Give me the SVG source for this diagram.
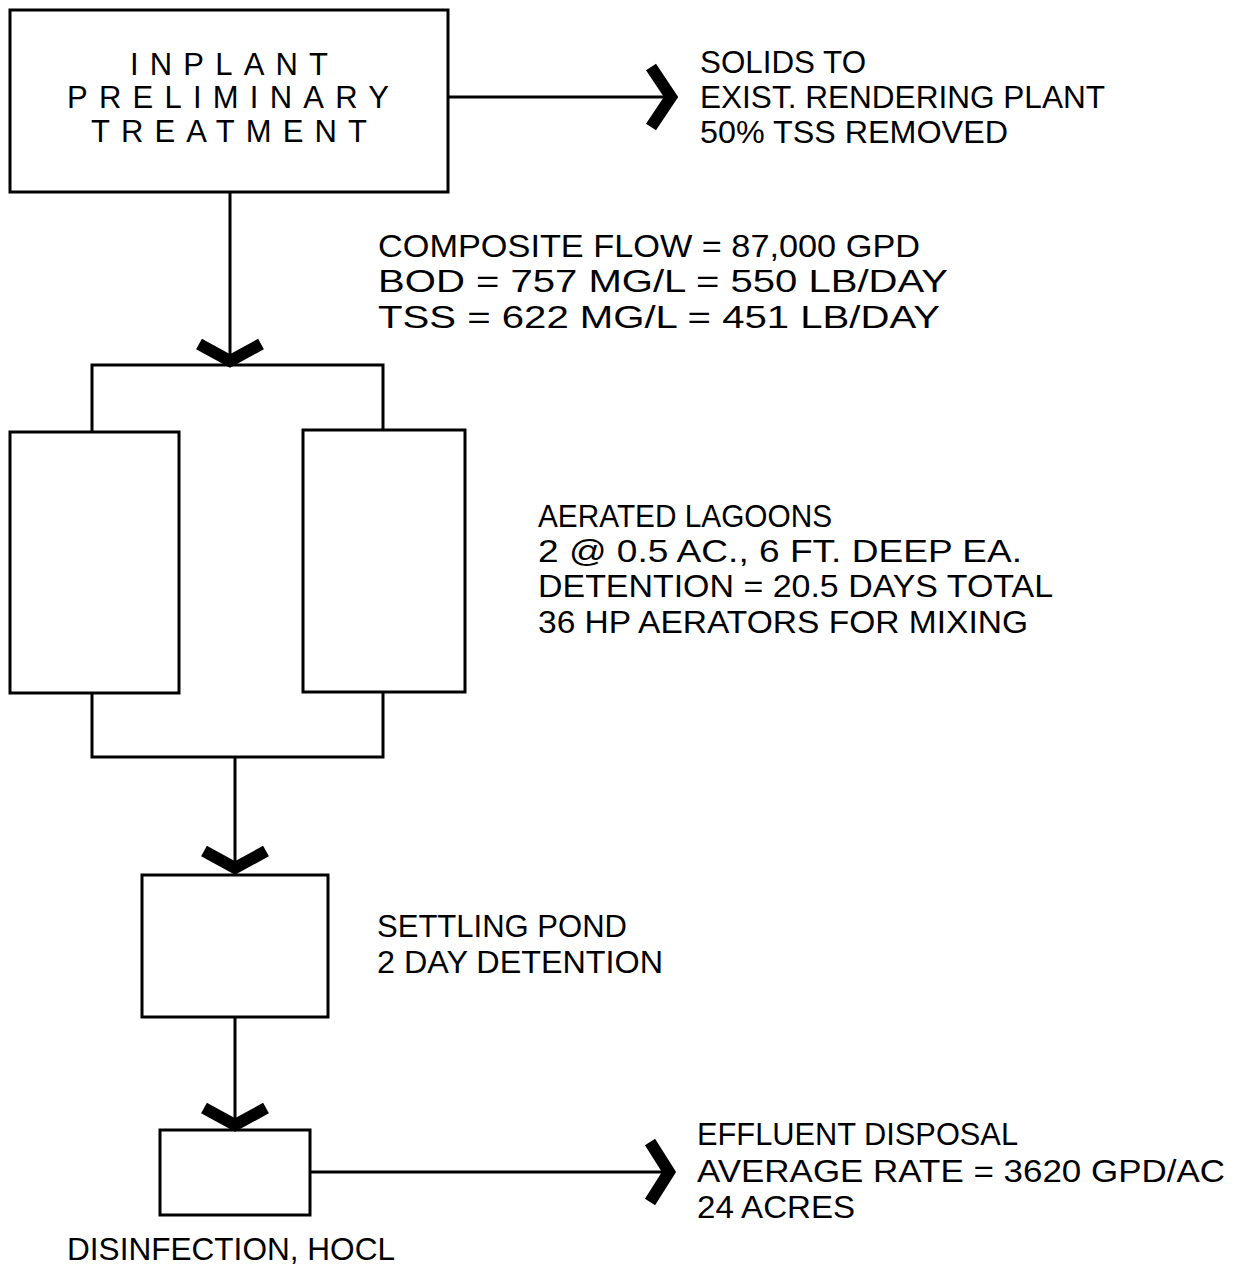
<svg xmlns="http://www.w3.org/2000/svg" width="1234" height="1271" viewBox="0 0 1234 1271">
<style>
.box{fill:none;stroke:#000;stroke-width:3}
.ln{fill:none;stroke:#000;stroke-width:3}
.chev{fill:none;stroke:#000;stroke-width:12;stroke-linejoin:miter;stroke-linecap:butt}
.t{font-family:"Liberation Sans",Arial,sans-serif;font-size:32px;fill:#000}
.tt{font-family:"Liberation Sans",Arial,sans-serif;font-size:31px;fill:#000}
</style>
<rect width="1234" height="1271" fill="#fff"/>
<g id="connectors">
  <line class="ln" x1="448" y1="97" x2="670" y2="97"/>
  <polyline class="chev" points="651,67 671,97 651,127"/>
  <line class="ln" x1="230" y1="192" x2="230" y2="362"/>
  <polyline class="chev" points="199,344 230,361 261,344"/>
  <polyline class="ln" points="92,432 92,365 383,365 383,430"/>
  <polyline class="ln" points="92,693 92,757 383,757 383,692"/>
  <line class="ln" x1="235" y1="757" x2="235" y2="870"/>
  <polyline class="chev" points="204,851 235,868 266,851"/>
  <line class="ln" x1="235" y1="1017" x2="235" y2="1125"/>
  <polyline class="chev" points="204,1108 235,1125 266,1108"/>
  <line class="ln" x1="310" y1="1172" x2="668" y2="1172"/>
  <polyline class="chev" points="650,1142 669,1172 650,1202"/>
</g>
<g id="preliminary">
  <rect class="box" x="10" y="10" width="438" height="182"/>
  <text class="tt" x="130" y="75" textLength="198" lengthAdjust="spacing">INPLANT</text>
  <text class="tt" x="67" y="108" textLength="322" lengthAdjust="spacing">PRELIMINARY</text>
  <text class="tt" x="91" y="142" textLength="276" lengthAdjust="spacing">TREATMENT</text>
</g>
<g id="solids-label">
  <text class="t" x="700" y="73" textLength="166" lengthAdjust="spacingAndGlyphs">SOLIDS TO</text>
  <text class="t" x="700" y="108" textLength="405" lengthAdjust="spacingAndGlyphs">EXIST. RENDERING PLANT</text>
  <text class="t" x="700" y="143" textLength="308" lengthAdjust="spacingAndGlyphs">50% TSS REMOVED</text>
</g>
<g id="flow-label">
  <text class="t" x="378" y="257" textLength="542" lengthAdjust="spacingAndGlyphs">COMPOSITE FLOW = 87,000 GPD</text>
  <text class="t" x="378" y="292" textLength="570" lengthAdjust="spacingAndGlyphs">BOD = 757 MG/L = 550 LB/DAY</text>
  <text class="t" x="378" y="328" textLength="562" lengthAdjust="spacingAndGlyphs">TSS = 622 MG/L = 451 LB/DAY</text>
</g>
<g id="lagoon-left">
  <rect class="box" x="10" y="432" width="169" height="261"/>
</g>
<g id="lagoon-right">
  <rect class="box" x="303" y="430" width="162" height="262"/>
</g>
<g id="lagoons-label">
  <text class="t" x="538" y="527" textLength="294" lengthAdjust="spacingAndGlyphs">AERATED LAGOONS</text>
  <text class="t" x="538" y="562" textLength="484" lengthAdjust="spacingAndGlyphs">2 @ 0.5 AC., 6 FT. DEEP EA.</text>
  <text class="t" x="538" y="597" textLength="515" lengthAdjust="spacingAndGlyphs">DETENTION = 20.5 DAYS TOTAL</text>
  <text class="t" x="538" y="633" textLength="490" lengthAdjust="spacingAndGlyphs">36 HP AERATORS FOR MIXING</text>
</g>
<g id="settling-pond">
  <rect class="box" x="142" y="875" width="186" height="142"/>
  <text class="t" x="377" y="937" textLength="250" lengthAdjust="spacingAndGlyphs">SETTLING POND</text>
  <text class="t" x="377" y="973" textLength="286" lengthAdjust="spacingAndGlyphs">2 DAY DETENTION</text>
</g>
<g id="disinfection">
  <rect class="box" x="160" y="1130" width="150" height="85"/>
  <text class="t" x="67" y="1260" textLength="328" lengthAdjust="spacingAndGlyphs">DISINFECTION, HOCL</text>
</g>
<g id="effluent-label">
  <text class="t" x="697" y="1145" textLength="321" lengthAdjust="spacingAndGlyphs">EFFLUENT DISPOSAL</text>
  <text class="t" x="697" y="1182" textLength="528" lengthAdjust="spacingAndGlyphs">AVERAGE RATE = 3620 GPD/AC</text>
  <text class="t" x="697" y="1218" textLength="158" lengthAdjust="spacingAndGlyphs">24 ACRES</text>
</g>
</svg>
